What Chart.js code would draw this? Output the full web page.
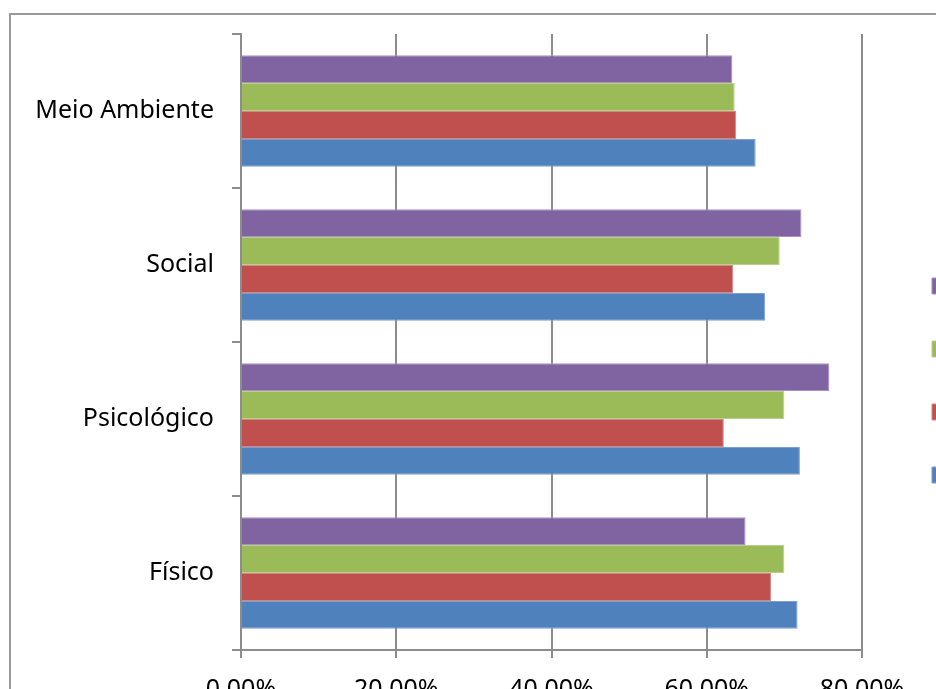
<!DOCTYPE html>
<html lang="pt">
<head>
<meta charset="utf-8">
<title>Qualidade de vida por domínio</title>
<script src="https://cdn.jsdelivr.net/npm/chart.js@4.4.1/dist/chart.umd.min.js"></script>
<style>
  body { margin: 0; background: #fff; overflow: hidden; }
  .moldura {
    position: absolute; left: 9px; top: 13px;
    width: 1100px; height: 800px;
    border: 2px solid #9a9a9a;
  }
  #grafico { position: absolute; left: 0; top: 0; }
</style>
</head>
<body>
<div class="moldura"></div>
<canvas id="grafico" width="1000" height="727"></canvas>
<script>
// Domínios, de cima para baixo
const dominios = ['Meio Ambiente', 'Social', 'Psicológico', 'Físico'];

// Percentuais por série (mesma ordem dos domínios)
const serie1 = [66.3, 67.5, 72.0, 71.7];
const serie2 = [63.8, 63.4, 62.2, 68.3];
const serie3 = [63.6, 69.4, 70.0, 70.0];
const serie4 = [63.3, 72.2, 75.8, 65.0];

const nomesSeries = ['Série 1', 'Série 2', 'Série 3', 'Série 4'];
const ticksX = [0, 20, 40, 60, 80];

const cores = ['#4F81BD', '#C0504D', '#9BBB59', '#8064A2'];
const bordas = ['#7d9fcf', '#d48683', '#b8d08a', '#a691bf'];

const corEixo = '#8c8c8c';
const fonte = { family: "'Noto Sans', sans-serif", size: 25 };

function formataPct(v) {
    return v.toFixed(2).replace('.', ',') + '%';
}

// barras horizontais: a primeira série fica embaixo em cada grupo
const series = [serie4, serie3, serie2, serie1];
const indices = [3, 2, 1, 0];

const datasets = series.map(function(valores, i) {
    const k = indices[i];
    return {
        label: nomesSeries[k],
        data: valores,
        backgroundColor: cores[k],
        borderColor: bordas[k],
        borderWidth: 1,
        categoryPercentage: 0.725,
        barPercentage: 1
    };
});

// largura fixa da legenda (texto fica fora da janela)
const larguraLegenda = {
    id: 'larguraLegenda',
    beforeInit(chart) {
        const fit = chart.legend.fit;
        chart.legend.fit = function() {
            fit.call(this);
            this.width = 115;
        };
    }
};

new Chart(document.getElementById('grafico'), {
    type: 'bar',
    data: { labels: dominios, datasets: datasets },
    plugins: [larguraLegenda],
    options: {
        indexAxis: 'y',
        responsive: false,
        animation: false,
        devicePixelRatio: 1,
        layout: { padding: { top: 34, left: 0, right: 0, bottom: 0 } },
        scales: {
            x: {
                min: 0,
                max: 80,
                afterBuildTicks(scale) {
                    scale.ticks = ticksX.map(v => ({ value: v }));
                },
                afterFit(scale) { scale.height = 77; },
                grid: { color: corEixo, lineWidth: 2, tickLength: 8 },
                border: { color: corEixo, width: 2 },
                ticks: {
                    color: '#000',
                    font: fonte,
                    padding: 17,
                    maxRotation: 0,
                    callback: v => formataPct(v)
                }
            },
            y: {
                afterFit(scale) { scale.width = 241; },
                grid: { offset: true, drawOnChartArea: false, color: corEixo, lineWidth: 2, tickLength: 9 },
                border: { color: corEixo, width: 2 },
                ticks: { color: '#000', font: fonte, padding: 18 }
            },
            // espaço entre a área do gráfico e a legenda
            espaco: {
                type: 'category',
                position: 'right',
                afterFit(scale) { scale.width = 23; },
                grid: { display: false },
                border: { display: false },
                ticks: { display: false }
            }
        },
        plugins: {
            legend: {
                position: 'right',
                labels: {
                    boxWidth: 16,
                    boxHeight: 16,
                    padding: 47,
                    color: '#000',
                    font: { family: "'Noto Sans', sans-serif", size: 16 }
                }
            },
            tooltip: { enabled: false }
        }
    }
});
</script>
</body>
</html>
